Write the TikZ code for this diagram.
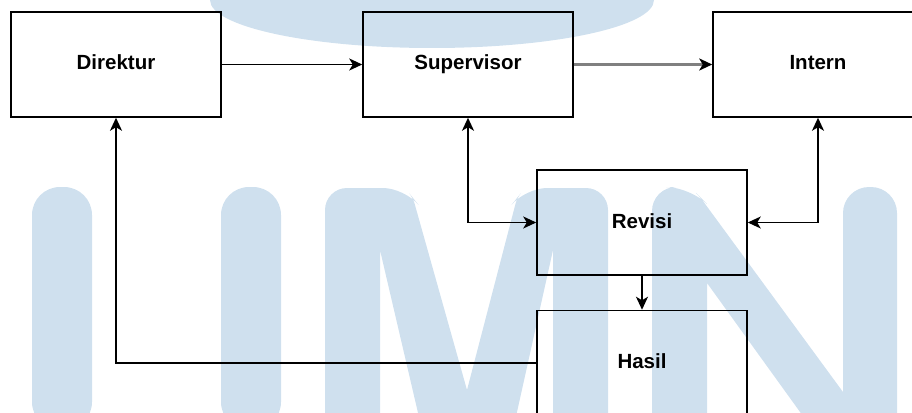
\documentclass[tikz,border=0pt]{standalone}
\usepackage{fontspec}
\setmainfont{Liberation Sans}
\usetikzlibrary{arrows.meta}
\definecolor{wmblue}{RGB}{207,224,238}
\begin{document}
\begin{tikzpicture}[x=1pt, y=-1pt,
        main/.style = {draw, line width=1.5pt, minimum width=210pt, minimum height=105pt,
            text height=15pt, text depth=4pt, font=\fontsize{20.5}{24}\selectfont\bfseries},
        >={Stealth[length=13pt, width=12pt, inset=3.5pt]}, line width=1.5pt]
    \useasboundingbox (0,0) rectangle (912,412);

    % watermark
    \fill[wmblue] (432,0) ellipse [x radius=222, y radius=48];
    \fill[wmblue, rounded corners=28pt] (32,430) -- (32,187) -- (92,187) -- (92,430) -- cycle;
    \fill[wmblue, rounded corners=28pt] (221,430) -- (221,187) -- (281,187) -- (281,430) -- cycle;
    \fill[wmblue] (325,430) [rounded corners=22pt] -- (325,188) -- (405,188) [rounded corners=6pt] -- (413,198)
        [sharp corners] -- (467,390) [rounded corners=6pt] -- (517,198) [rounded corners=22pt] -- (525,188)
        -- (608,188) [sharp corners] -- (608,430) -- (553,430) -- (553,250) -- (513,430) -- (422,430)
        -- (380,250) -- (380,430) -- cycle;
    \fill[wmblue] (652,430) [rounded corners=24pt] -- (652,187) -- (690,187) [rounded corners=6pt] -- (700,197)
        [sharp corners] -- (843,392) [rounded corners=26pt] -- (843,187) -- (897,187)
        [sharp corners] -- (897,430) -- (813,430) -- (707,283) -- (707,430) -- cycle;

    % boxes
    \node[main] at (116,64.5) (0) {Direktur};
    \node[main] at (468,64.5) (1) {Supervisor};
    \node[main] at (818,64.5) (2) {Intern};
    \node[main] at (642,222.5) (3) {Revisi};
    \node[main] at (642,363) (4) {Hasil};

    \draw[->] (0) -- (1);
    \draw[-{Stealth[length=13pt, width=12pt, inset=3.5pt, color=black]}, gray, line width=2.6pt] (1) -- (2);
    \draw[<->] (1) |- (3);
    \draw[<->] (2) |- (3);
    \draw[->] (3) -- (4);
    \draw[->] (4) -| (0);
\end{tikzpicture}
\end{document}
